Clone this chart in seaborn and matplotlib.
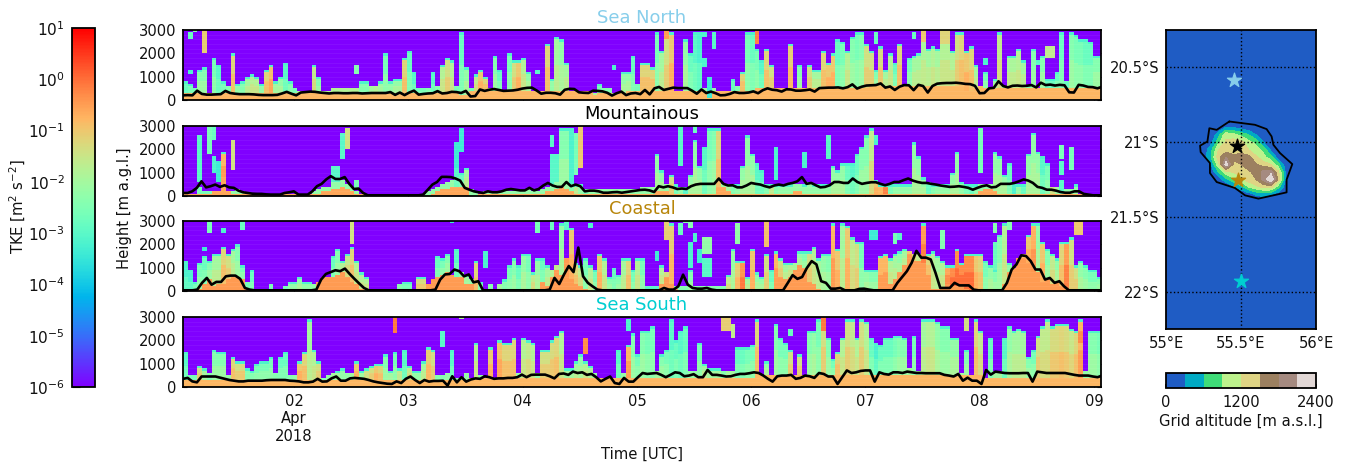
import numpy as np
import pandas as pd
import seaborn as sns
import matplotlib
matplotlib.use("Agg")
import matplotlib.pyplot as plt
from matplotlib.colors import LogNorm, ListedColormap, BoundaryNorm
from matplotlib.cm import ScalarMappable

W, H = 1348, 466
NT, NZ = 193, 30   # hourly columns, 100 m rows
BG = -6.0

# column top of the turbulent layer, in 100 m
top_sn = [8,7,5,13,14,3,18,15,8,6,20,7,8,10,11,10,7,13,15,8,10,16,8,5,
          4,4,4,15,10,4,4,5,5,5,5,5,5,8,8,6,6,8,20,8,9,9,18,21,
          12,5,5,5,12,6,15,18,17,6,29,14,5,11,13,10,5,19,13,3,20,17,17,18,
          12,3,3,4,24,9,27,26,16,4,4,3,3,3,3,7,5,5,3,3,12,12,19,7,
          16,16,14,29,21,27,29,4,4,26,20,29,29,5,5,5,4,4,4,9,6,12,29,29,
          22,17,22,15,5,5,5,24,3,15,5,15,13,13,21,16,20,26,25,21,27,29,29,24,
          21,13,23,13,20,16,24,3,18,19,20,29,22,23,22,29,29,21,29,29,21,23,15,4,
          12,3,9,29,6,19,19,22,17,6,22,5,19,9,9,12,29,8,29,28,26,26,25,19,19]
top_mt = [1,1,1,4,2,2,2,2,19,2,2,3,2,1,1,1,1,1,1,1,1,1,1,1,
          1,1,1,2,3,4,4,6,6,7,5,4,2,1,1,1,1,1,1,1,1,1,1,1,
          1,1,1,2,3,4,5,6,7,12,10,12,3,2,1,2,2,2,2,2,2,2,2,2,
          3,2,2,3,4,6,6,29,29,6,5,5,3,3,3,3,3,3,3,3,3,3,3,3,
          4,4,4,18,11,5,9,5,4,4,9,24,13,21,29,29,29,5,5,5,5,13,26,18,
          14,11,5,5,5,5,5,5,5,5,5,6,5,5,5,5,13,11,14,14,14,18,21,26,
          29,7,5,5,5,5,5,5,5,23,17,8,6,5,5,5,5,10,19,6,5,5,5,5,
          5,5,19,17,9,14,5,5,5,18,27,19,17,14,4,4,3,3,3,5,1,1,1,1,1]
top_cs = [13,9,4,12,15,13,16,16,19,16,18,20,11,4,9,1,1,1,3,1,1,2,4,4,
          6,4,4,3,4,4,5,15,18,13,16,19,13,8,6,1,1,1,1,1,1,3,4,4,
          1,6,6,3,1,15,14,16,6,18,8,7,5,13,4,1,3,1,3,5,11,14,11,16,
          16,8,14,14,11,9,11,29,9,27,12,11,14,11,9,16,14,6,10,7,14,14,9,14,
          14,2,2,2,11,8,29,2,2,2,9,2,2,2,2,2,2,2,7,18,13,13,6,18,
          8,6,16,9,17,14,12,12,12,17,17,17,19,14,16,16,29,18,29,28,23,21,21,9,
          9,9,15,16,14,16,17,18,17,16,16,29,16,17,15,13,11,11,18,12,16,16,16,16,
          13,11,9,24,29,12,8,12,16,24,29,29,21,18,16,14,21,21,23,11,13,11,9,9,6]
top_ss = [15,5,5,9,8,6,16,15,15,5,13,11,11,8,7,10,11,11,13,6,13,15,5,5,
          11,15,29,16,11,4,5,6,7,8,6,6,11,7,8,9,10,10,14,7,15,8,16,9,
          7,7,11,17,16,5,5,6,16,4,4,6,4,19,5,3,17,4,20,19,19,21,6,21,
          20,19,6,16,16,20,22,24,8,8,11,14,11,9,6,3,3,3,3,16,6,18,23,14,
          24,24,26,7,14,16,29,20,24,26,7,7,19,10,8,8,8,7,7,7,17,17,17,18,
          29,5,11,3,27,21,19,16,3,14,3,24,24,29,29,21,12,15,21,29,29,21,29,28,
          21,19,18,21,21,22,22,21,8,22,7,29,29,29,28,26,26,21,21,6,16,3,29,24,
          3,21,7,7,21,26,24,25,24,13,16,22,26,29,26,27,27,27,25,24,29,7,24,24,24]

# log10 TKE above the warm layer, in tenths
tke_sn = [-28,-26,-26,-24,-24,-20,-26,-30,-26,-24,-12,-22,-24,-20,-18,-18,-22,-12,-9,-20,-22,-30,-24,-26,
          -18,-18,-18,-16,-24,-18,-18,-18,-18,-18,-18,-18,-18,-24,-24,-20,-18,-20,-26,-22,-22,-22,-12,-28,
          -30,-26,-26,-24,-30,-24,-18,-14,-18,-26,-28,-22,-26,-16,-10,-12,-22,-24,-28,-20,-26,-14,-10,-18,
          -22,-20,-24,-20,-12,-22,-20,-22,-20,-20,-20,-20,-20,-20,-20,-26,-24,-24,-20,-20,-22,-22,-28,-26,
          -12,-12,-12,-26,-20,-14,-10,-20,-20,-22,-28,-30,-32,-22,-22,-22,-22,-22,-22,-28,-24,-12,-26,-28,
          -26,-30,-12,-14,-20,-20,-20,-11,-20,-24,-20,-14,-20,-20,-12,-10,-10,-28,-26,-18,-24,-26,-24,-14,
          -14,-24,-13,-20,-18,-28,-12,-20,-26,-20,-20,-19,-20,-18,-20,-18,-18,-18,-14,-12,-10,-12,-20,-20,
          -26,-20,-20,-16,-20,-19,-19,-18,-20,-24,-24,-20,-24,-28,-28,-28,-28,-28,-24,-26,-26,-28,-28,-24,-24]
tke_mt = [-22]*3 + [-26]*5 + [-8] + [-22]*48 + [-30,-28,-20] + [-22]*19 + [-24,-24,-24,-16,-22,-26,-22] + [-22]*13 \
         + [-22]*3 + [-14,-26,-22,-30,-22,-22,-22,-30,-26,-24,-12,-20,-20,-24,-22,-22,-22,-22,-30,-30,-24,-16,-24] \
         + [-22]*14 + [-28,-30,-28,-24,-24,-16,-10,-8,-2,-26] + [-22]*7 + [-28,-24,-22,-22,-22,-22,-22,-22,-26,-28] \
         + [-22]*7 + [-28,-32,-22,-28,-22,-22,-22,-30,-26,-14,-20,-26] + [-22]*11
tke_cs = [-32,-32,-26,-26,-28,-24,-20,-20,-12,-14,-20,-24,-26,-26,-28,-26,-26,-26,-26,-26,-26,-26,-22,-22,
          -22,-22,-22,-22,-22,-20,-20,-28,-24,-18,-16,-12,-18,-18,-18,-26,-26,-26,-26,-26,-26,-24,-26,-26,
          -24,-13,-13,-24,-24,-28,-26,-24,-22,-30,-22,-20,-22,-12,-24,-24,-24,-24,-20,-24,-26,-24,-28,-22,
          -26,-16,-22,-28,-20,-18,-16,-22,-24,-10,-12,-16,-26,-18,-26,-10,-18,-24,-28,-24,-20,-12,-26,-18,
          -26,-30,-30,-30,-18,-13,-11,-24,-24,-24,-24,-24,-24,-24,-24,-24,-24,-24,-16,-22,-11,-4,-20,-10,
          -22,-22,-14,-28,-8,-14,-20,-18,-20,-22,-24,-14,-18,-20,-22,-24,-8,-10,-20,-10,-16,-14,-26,-22,
          -24,-24,-8,-8,-18,-20,-22,-20,-10,-12,-16,-5,-12,-18,-20,-18,-6,-3,-3,-3,-3,-3,-10,-12,
          -26,-22,-24,-24,-18,-22,-24,-6,-8,-10,-7,-22,-10,-24,-16,-22,-12,-5,-14,-14,-22,-24,-26,-26,-24]
tke_ss = [-30,-26,-26,-14,-20,-24,-24,-24,-24,-22,-12,-14,-13,-24,-24,-26,-26,-26,-26,-24,-28,-28,-24,-22,
          -10,-12,-20,-18,-14,-24,-22,-20,-20,-22,-22,-20,-10,-20,-14,-14,-10,-12,-24,-20,-26,-16,-30,-16,
          -22,-22,-20,-11,-14,-24,-24,-22,-30,-22,-22,-22,-22,-18,-22,-22,-10,-22,-9,-12,-12,-12,-22,-18,
          -16,-18,-22,-14,-14,-13,-12,-18,-20,-20,-20,-22,-18,-18,-22,-22,-22,-22,-22,-30,-22,-8,-24,-26,
          -24,-26,-26,-20,-24,-26,-30,-28,-30,-28,-22,-22,-26,-20,-20,-20,-20,-24,-20,-20,-28,-28,-26,-26,
          -12,-20,-22,-20,-24,-26,-26,-14,-20,-14,-20,-24,-22,-26,-14,-24,-26,-12,-18,-14,-16,-18,-14,-18,
          -28,-32,-28,-28,-28,-26,-24,-24,-20,-26,-20,-20,-18,-18,-22,-24,-24,-22,-22,-20,-24,-20,-12,-16,
          -20,-28,-20,-20,-30,-22,-20,-20,-20,-24,-26,-14,-16,-16,-13,-13,-12,-13,-15,-12,-8,-22,-24,-24,-26]

# depth of the orange layer near the ground, in 100 m
warm_sn = [3]*58 + [2,2] + [4]*26 + [2,3,3,3,2,3,3,4,4,4] + [4]*24 + [5]*24 + [6]*20 + [4,4,5,6] + [5]*25
warm_mt = [1]*6 + [2,2,8,2,1] + [1]*18 + [2,2,3,3,4,3,2,1,1] + [0]*14 + [1,2,3,3,4,4,4,4] + [0,0] + [1]*14 \
          + [2,2,3,4,3,2] + [1]*15 + [1,1,2,2,2,1,1] + [1]*8 + [4,4,2,1] + [1]*12 + [2,2] + [1]*24 + [1]*13 + [2,3,3,2,1,1] + [1]*17 + [0]*3
warm_cs = [0,0,0,1,3,5,2,3,3,5,6,6,5,1] + [0]*13 + [1,4,6,6,6,7,8,6,4,3,1] + [0]*13 + [3,5,6,7,8,7,6,6,3,3] + [0]*14 \
          + [4,2,6,9,7,14,5,3,2,1] + [0]*15 + [3,6,3,1] + [0]*20 + [3,6,5,6,9,11,10,4,3,1] + [0]*14 \
          + [3,5,8,11,16,13,13,12,7,1,1,1,3,2,2,2,1] + [0]*7 + [3,8,10,14,14,12,8,8,4,5,3,4,2,1] + [0]*7
warm_ss = [3]*60 + [4]*36 + [4]*24 + [5]*48 + [4]*25

# elevated layers: first hour, last hour, base, top (100 m), log10 TKE in tenths
extra_sn = [(1,2,26,29,-28),(2,3,29,30,-24),(4,5,20,30,-11),(1,2,11,13,-32),(36,37,11,15,-24),(74,75,11,13,-30),
            (90,91,13,15,-32),(101,102,26,30,-5),(120,121,24,30,-2),(109,110,14,18,-32),(109,110,27,29,-32),
            (110,111,1,10,-34),(111,112,22,29,-30),(145,146,24,29,-28),(153,154,26,29,-28),(155,156,25,30,-10),
            (159,161,24,30,-12),(168,169,15,18,-32),(181,183,18,23,-16),(179,180,15,17,-30)]
extra_mt = [(3,4,6,26,-30),(5,6,18,30,-26),(6,7,24,30,-28),(6,7,10,17,-32),(7,8,6,15,-34),(10,11,11,24,-14),
            (31,33,6,13,-30),(33,34,16,27,-30),(34,35,20,29,-14),(36,37,3,7,-26),(57,58,12,23,-34),(58,59,19,29,-34),
            (77,78,21,26,-30),(77,79,6,18,-30),(81,82,6,29,-32),(82,83,9,27,-26),(83,84,12,30,-10),
            (104,105,13,30,-30),(107,108,27,30,-28),(124,125,7,21,-32),(130,131,12,19,-32),(135,136,16,26,-30),
            (145,146,22,26,-32),(167,168,10,29,-26),(184,185,16,22,-26),(184,185,9,15,-30),(184,185,2,7,-30),(186,187,11,21,-26)]
extra_cs = [(5,6,25,30,-26),(8,9,25,27,-32),(12,13,26,30,-28),(4,5,17,19,-34),(35,36,20,30,-14),(56,57,29,30,-34),
            (63,64,10,17,-32),(74,75,25,30,-26),(77,78,26,30,-28),(80,81,26,30,-30),(85,86,27,29,-32),
            (99,100,13,17,-34),(101,102,22,30,-11),(104,105,24,29,-28),(105,106,29,30,-24),(106,107,15,21,-32),
            (106,107,10,15,-32),(106,107,27,30,-24),(107,108,21,25,-32),(108,109,12,18,-34),(109,111,16,23,-22),
            (109,111,6,14,-30),(116,117,20,29,-22),(122,123,19,30,-9),(144,146,22,26,-34),(149,150,20,25,-26),
            (150,151,22,25,-30),(159,160,18,26,-24),(170,171,25,29,-24),(170,171,9,21,-28),(173,174,26,30,-24),(187,189,24,30,-10)]
extra_ss = [(44,45,23,30,-1),(54,55,17,24,-30),(58,59,29,30,-18),(84,85,14,21,-3),(93,94,24,29,-32),(113,115,24,30,-11),
            (115,116,21,27,-16),(127,128,22,25,-28),(134,135,24,30,-1),(164,165,24,30,-14),(188,189,19,24,-3)]

# boundary layer height in m (black line), evenly spread over the period
pbl_sn = [200,210,200,400,260,230,230,240,250,390,300,270,250,250,250,240,220,210,210,210,220,280,350,270,200,320,340,360,350,320,300,280,
          300,300,290,290,300,300,280,290,300,300,300,300,340,220,320,210,320,400,230,260,280,290,380,280,300,350,340,300,390,150,170,450,
          390,440,470,430,390,400,410,440,490,520,530,410,270,310,310,290,230,440,480,470,330,310,300,400,390,370,310,190,290,360,210,280,300,250,430,240,500,
          560,430,480,530,510,510,510,400,270,450,300,360,290,200,210,260,340,300,300,320,370,290,420,500,440,420,360,460,450,400,400,420,450,360,510,520,530,530,540,500,550,670,490,570,620,630,640,710,530,580,430,570,640,630,420,650,600,320,600,700,720,730,730,740,720,690,680,610,290,300,500,520,800,600,540,610,620,600,610,640,540,740,640,660,620,650,630,330,320,650,620,560,550,500,570]
pbl_mt = [130,130,200,350,630,370,420,490,390,460,370,350,230,160,130,100,90,90,70,60,60,60,130,160,200,60,60,60,200,420,520,710,850,730,730,810,520,300,320,130,
          30,30,30,30,30,30,30,30,30,30,30,30,60,270,490,600,820,820,810,750,660,350,270,200,160,130,200,160,160,200,270,300,270,240,240,350,240,300,450,560,450,390,390,600,420,490,420,200,230,230,200,140,140,160,170,140,170,200,230,260,
          270,240,170,420,370,420,370,300,320,300,420,490,520,520,520,520,750,520,450,460,370,370,450,560,520,490,420,370,450,490,450,520,560,630,810,520,560,460,370,390,460,600,600,560,560,750,600,520,560,590,590,520,460,520,600,600,680,750,660,600,560,560,520,490,450,420,390,400,420,390,350,270,350,420,460,370,390,520,520,520,560,630,710,660,560,390,350,270,270,230,170,140,140,200,200,90,60,30,30,30]
pbl_cs = [30,30,30,60,350,560,270,390,390,630,660,660,520,130,60] + [30]*13 + [60,490,730,810,890,850,960,730,520,320,130] + [30]*14 \
         + [60,490,710,730,920,850,630,710,370,420] + [30]*14 + [60,560,300,710,1070,810,1860,630,350,200,60] + [30]*11 \
         + [30,30,130,60,60,200,700,270,130,100,100,130,60] + [30]*15 + [350,680,520,600,990,1280,1140,420,350,100,100,130,30,30,30,90,100,60] + [30]*5 \
         + [350,600,850,1210,1720,1430,1430,1350,780,130,130,130,350,240,240,240,60] + [30]*6 + [350,920,1140,1530,1500,1280,920,920,490,560,350,420,200] + [30]*8
pbl_ss = [350,390,240,200,450,450,450,450,400,350,300,270,240,240,270,270,270,270,290,300,300,300,300,270,260,240,200,200,230,350,230,240,370,450,270,270,370,390,370,350,300,240,200,170,140,130,240,170,350,450,300,170,300,230,260,260,270,60,460,200,420,230,320,370,350,460,420,350,370,370,390,390,420,530,420,520,530,530,530,460,370,560,580,520,660,600,630,520,560,420,240,350,450,170,130,390,230,230,420,600,
          560,580,600,520,420,520,630,600,460,490,550,420,420,730,520,520,490,450,460,520,560,560,590,630,600,490,350,230,460,490,490,520,350,390,490,460,390,600,560,450,450,130,420,710,600,630,690,710,710,230,630,560,530,630,630,600,660,630,600,600,590,590,590,590,520,490,450,560,270,400,270,270,130,730,530,660,630,600,590,590,590,600,600,230,660,630,600,600,600,600,600,560,520,490,490,490,450,420,490]

# terrain of the island, lon/lat grid in degrees, altitude in m
terrain_lon = [55.20,55.25,55.30,55.35,55.40,55.45,55.50,55.55,55.60,55.65,55.70,55.75,55.80,55.85]
terrain_lat = [-21.40,-21.35,-21.30,-21.25,-21.20,-21.15,-21.10,-21.05,-21.00,-20.95,-20.90,-20.85]
terrain_alt = [[0,0,0,0,0,0,0,0,0,0,0,0,0,0],
               [0,0,0,0,0,0,0,100,350,400,300,100,0,0],
               [0,0,0,0,0,200,500,900,1100,1300,1300,700,100,0],
               [0,0,0,100,500,800,1100,1350,1500,1900,2450,1400,200,0],
               [0,0,100,600,1100,1250,1300,1450,1600,1900,2000,1250,200,0],
               [0,0,300,1100,2300,1450,1500,1650,1550,1350,1200,700,100,0],
               [0,100,600,1400,1800,1550,1600,1600,1250,1000,700,100,0,0],
               [0,100,500,1200,1350,1400,1400,1200,1000,800,200,0,0,0],
               [0,0,200,800,1250,1350,1300,1000,800,300,0,0,0,0],
               [0,0,0,500,1100,1000,800,600,300,0,0,0,0,0],
               [0,0,0,0,300,250,150,50,0,0,0,0,0,0],
               [0,0,0,0,0,0,0,0,0,0,0,0,0,0]]
coast_lon = [55.422,55.593,55.671,55.704,55.716,55.760,55.842,55.804,55.804,55.738,55.616,55.527,55.460,55.338,55.293,55.293,55.231,55.227,55.276,55.289,55.338,55.422]
coast_lat = [-20.862,-20.884,-20.913,-20.962,-21.018,-21.073,-21.147,-21.251,-21.336,-21.351,-21.378,-21.356,-21.307,-21.267,-21.207,-21.140,-21.067,-21.024,-20.996,-20.907,-20.918,-20.862]
site_lon = [55.456,55.471,55.478,55.500]
site_lat = [-20.584,-21.029,-21.256,-21.929]
site_col = ["#87ceeb","black","#b8860b","#00ced1"]

alt_colors = ["#1f5cc4","#00aac4","#3fdc78","#bdf28c","#dfd484","#9c8060","#a58a80","#e2d8d6"]
alt_levels = [0,300,600,900,1200,1500,1800,2100,2400]
day_ticks = [23.3 + 24*k for k in range(8)]
day_labels = ["02\nApr\n2018","03","04","05","06","07","08","09"]

panels = [("Sea North", "#87ceeb", top_sn, warm_sn, tke_sn, extra_sn, pbl_sn, -0.8, (30,100)),
          ("Mountainous", "black", top_mt, warm_mt, tke_mt, extra_mt, pbl_mt, -0.6, (126,196)),
          ("Coastal", "#b8860b", top_cs, warm_cs, tke_cs, extra_cs, pbl_cs, -0.45, (221,291)),
          ("Sea South", "#00ced1", top_ss, warm_ss, tke_ss, extra_ss, pbl_ss, -0.8, (317,387))]


def fit(vals):
    # hand-read lists can be a column short or long
    vals = list(vals)[:NT]
    return vals + [vals[-1]] * (NT - len(vals))


def tke_grid(top, warm, tke, extra, surf):
    grid = np.full((NZ, NT), BG)
    top, warm, tke = fit(top), fit(warm), fit(tke)
    for i in range(NT):
        if top[i] > warm[i]:
            depth = top[i] - warm[i]
            grid[warm[i]:top[i], i] = tke[i] / 10
            # columns read warmer in their lower part and teal at the rim
            if depth > 5:
                grid[warm[i]:warm[i]+depth//2, i] = tke[i] / 10 + 0.3
            if depth > 3:
                grid[top[i]-1:top[i], i] = min(tke[i] / 10, -3.2)
        grid[:warm[i], i] = surf
    for c0, c1, z0, z1, v in extra:
        grid[z0:z1, c0:c1] = v / 10
    return pd.DataFrame(10.0 ** grid)


def px_axes(fig, l, t, r, b):
    return fig.add_axes([l/W, 1-b/H, (r-l)/W, (b-t)/H])


sns.set_theme(style="white", rc={"axes.edgecolor": "black", "text.color": "#111111",
                                 "xtick.color": "#111111", "ytick.color": "#111111"})
plt.rcParams["font.family"] = ["DejaVu Sans"]
plt.rcParams["mathtext.default"] = "regular"
fs = 10.6

fig = plt.figure(figsize=(W/100, H/100), dpi=100)
norm = LogNorm(1e-6, 10)

for title, col, top, warm, tke, extra, pbl, surf, (t, b) in panels:
    ax = px_axes(fig, 183, t, 1101, b)
    sns.heatmap(tke_grid(top, warm, tke, extra, surf), cmap="rainbow", norm=norm, cbar=False, ax=ax,
                xticklabels=False, yticklabels=False, rasterized=True)
    # faint level edges seen across the purple background
    ax.hlines(np.arange(2, NZ, 2), 0, NT, color="white", lw=0.5, alpha=0.08)
    sns.lineplot(x=np.linspace(0, NT, len(pbl)), y=np.array(pbl)/100, color="black", lw=1.9, ax=ax, errorbar=None)
    ax.set_xlim(0, 192.75)
    ax.set_ylim(0, NZ)
    ax.set_xlabel("")
    ax.set_ylabel("")
    ax.set_yticks([0, 10, 20, 30], ["0", "1000", "2000", "3000"], fontsize=fs)
    ax.set_xticks(day_ticks, day_labels if title == "Sea South" else [""]*8, fontsize=fs)
    ax.tick_params(direction="in", top=True, right=True, bottom=True, left=True, length=3, width=0.8, pad=5)
    for s in ax.spines.values():
        s.set_visible(True)
        s.set_linewidth(1.3)
        s.set_color("black")
    ax.set_title(title, color=col, fontsize=12.9, pad=5)

fig.text(124/W, 1-208/H, "Height [m a.g.l.]", rotation=90, ha="center", va="center", fontsize=fs)
fig.text(642/W, 1-454/H, "Time [UTC]", ha="center", va="center", fontsize=fs)

cax = px_axes(fig, 72, 28, 95, 387)
cb = fig.colorbar(ScalarMappable(norm=norm, cmap="rainbow"), cax=cax)
cb.ax.yaxis.set_ticks_position("left")
cb.ax.minorticks_off()
cb.ax.tick_params(labelsize=fs+0.5, direction="in", length=6, width=0.8, pad=5)
for s in cb.ax.spines.values():
    s.set_linewidth(1.3)
fig.text(18/W, 1-207/H, "TKE [m$^2$ s$^{-2}$]", rotation=90, ha="center", va="center", fontsize=fs)

# terrain map
mp = px_axes(fig, 1166, 30, 1316, 329)
mp.set_facecolor(alt_colors[0])
mp.contourf(terrain_lon, terrain_lat, np.array(terrain_alt), levels=alt_levels, colors=alt_colors)
mp.plot(coast_lon, coast_lat, color="black", lw=1.3)
mp.set_xlim(55, 56)
mp.set_ylim(-22.25, -20.25)
for la in [-20.5, -21, -21.5, -22]:
    mp.axhline(la, color="black", lw=1, ls=":")
mp.axvline(55.5, color="black", lw=1, ls=":")
for lo, la, c in zip(site_lon, site_lat, site_col):
    sns.scatterplot(x=[lo], y=[la], marker="*", s=115, color=c, edgecolor=c, ax=mp, zorder=5, legend=False)
mp.set_xticks([55, 55.5, 56], ["55°E", "55.5°E", "56°E"], fontsize=fs)
mp.set_yticks([-20.5, -21, -21.5, -22], ["20.5°S", "21°S", "21.5°S", "22°S"], fontsize=fs)
mp.tick_params(length=0, pad=5)
mp.set_xlabel("")
mp.set_ylabel("")
for s in mp.spines.values():
    s.set_linewidth(1.3)
    s.set_color("black")

bar = px_axes(fig, 1166, 373, 1316, 388)
alt_norm = BoundaryNorm(alt_levels, len(alt_colors))
cb2 = fig.colorbar(ScalarMappable(norm=alt_norm, cmap=ListedColormap(alt_colors)), cax=bar, orientation="horizontal", spacing="proportional")
cb2.set_ticks([0, 1200, 2400], labels=["0", "1200", "2400"])
cb2.ax.minorticks_off()
cb2.ax.tick_params(labelsize=fs, length=3, direction="in", pad=5)
for s in cb2.ax.spines.values():
    s.set_linewidth(1.3)
fig.text(1241/W, 1-421/H, "Grid altitude [m a.s.l.]", ha="center", va="center", fontsize=fs)

fig.savefig("out.png", dpi=100)
